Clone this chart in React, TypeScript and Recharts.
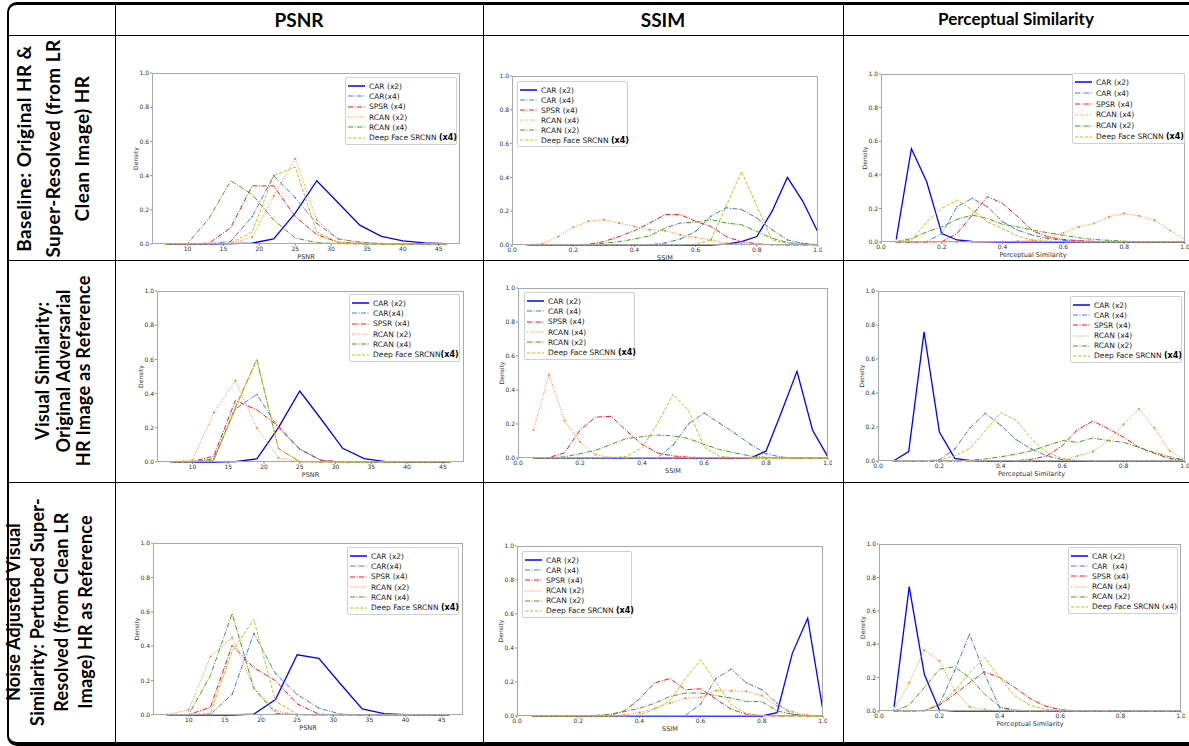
import React from "react";
import { LineChart, Line, XAxis, YAxis } from "recharts";

// x positions
const psnrX = [7, 10, 13, 16, 19, 22, 25, 28, 31, 34, 37, 40, 43, 46];
const unitX = [0.05, 0.1, 0.15, 0.2, 0.25, 0.3, 0.35, 0.4, 0.45, 0.5, 0.55, 0.6, 0.65, 0.7, 0.75, 0.8, 0.85, 0.9, 0.95, 1.0];
const psnrTicks = [10, 15, 20, 25, 30, 35, 40, 45];
const unitTicks = [0, 0.2, 0.4, 0.6, 0.8, 1];
const densityTicks = [0, 0.2, 0.4, 0.6, 0.8, 1];

// row 1: baseline
const psnrBaseCar2 = [0, 0, 0, 0.002, 0.005, 0.03, 0.18, 0.37, 0.24, 0.11, 0.045, 0.018, 0.006, 0.002];
const psnrBaseCar4 = [0, 0, 0.002, 0.015, 0.16, 0.4, 0.27, 0.12, 0.03, 0.01, 0.003, 0, 0, 0];
const psnrBaseSpsr = [0, 0, 0.005, 0.095, 0.34, 0.34, 0.16, 0.055, 0.01, 0.003, 0, 0, 0, 0];
const psnrBaseRcan2 = [0, 0, 0, 0.002, 0.04, 0.28, 0.5, 0.14, 0.03, 0.007, 0.002, 0, 0, 0];
const psnrBaseRcan4 = [0, 0.003, 0.15, 0.37, 0.29, 0.14, 0.035, 0.008, 0.002, 0, 0, 0, 0, 0];
const psnrBaseDeep = [0, 0, 0, 0.005, 0.07, 0.4, 0.45, 0.07, 0.01, 0.002, 0, 0, 0, 0];

const ssimBaseCar2 = [0, 0, 0, 0, 0, 0, 0, 0, 0, 0, 0, 0, 0, 0.005, 0.02, 0.05, 0.2, 0.4, 0.26, 0.075];
const ssimBaseCar4 = [0, 0, 0, 0, 0, 0, 0, 0, 0.002, 0.012, 0.035, 0.08, 0.17, 0.22, 0.21, 0.16, 0.09, 0.03, 0.01, 0.002];
const ssimBaseSpsr = [0, 0, 0, 0, 0.005, 0.02, 0.05, 0.085, 0.13, 0.18, 0.18, 0.14, 0.11, 0.05, 0.02, 0.007, 0.002, 0, 0, 0];
const ssimBaseRcan4 = [0.001, 0.008, 0.05, 0.105, 0.14, 0.15, 0.13, 0.11, 0.09, 0.085, 0.06, 0.045, 0.03, 0.01, 0.005, 0.002, 0, 0, 0, 0];
const ssimBaseRcan2 = [0, 0, 0, 0, 0.003, 0.01, 0.02, 0.035, 0.055, 0.1, 0.13, 0.135, 0.15, 0.13, 0.12, 0.08, 0.04, 0.015, 0.005, 0.001];
const ssimBaseDeep = [0, 0, 0, 0, 0, 0, 0, 0, 0, 0, 0, 0.005, 0.03, 0.23, 0.435, 0.23, 0.03, 0.01, 0.002, 0];

const percBaseCar2 = [0.015, 0.555, 0.36, 0.05, 0.012, 0.003, 0.001, 0, 0, 0, 0, 0, 0, 0, 0, 0, 0, 0, 0, 0];
const percBaseCar4 = [0, 0, 0.002, 0.05, 0.21, 0.26, 0.21, 0.12, 0.07, 0.04, 0.02, 0.01, 0.005, 0.002, 0, 0, 0, 0, 0, 0];
const percBaseSpsr = [0, 0, 0, 0.002, 0.05, 0.16, 0.27, 0.23, 0.15, 0.065, 0.03, 0.015, 0.008, 0.004, 0.002, 0, 0, 0, 0, 0];
const percBaseRcan4 = [0, 0, 0, 0, 0, 0, 0, 0.002, 0.005, 0.01, 0.03, 0.055, 0.09, 0.11, 0.15, 0.17, 0.155, 0.13, 0.07, 0.015];
const percBaseRcan2 = [0.002, 0.02, 0.06, 0.09, 0.135, 0.16, 0.14, 0.105, 0.09, 0.07, 0.055, 0.04, 0.025, 0.015, 0.01, 0.005, 0.002, 0, 0, 0];
const percBaseDeep = [0, 0.01, 0.12, 0.2, 0.25, 0.19, 0.12, 0.08, 0.035, 0.01, 0.005, 0.002, 0, 0, 0, 0, 0, 0, 0, 0];

// row 2: visual similarity
const psnrVisCar2 = [0, 0, 0, 0.002, 0.018, 0.2, 0.415, 0.25, 0.08, 0.02, 0.002, 0, 0, 0];
const psnrVisCar4 = [0, 0, 0.02, 0.31, 0.395, 0.2, 0.075, 0.01, 0.002, 0, 0, 0, 0, 0];
const psnrVisSpsr = [0, 0.003, 0.035, 0.36, 0.305, 0.21, 0.075, 0.008, 0.001, 0, 0, 0, 0, 0];
const psnrVisRcan2 = [0.001, 0.012, 0.29, 0.475, 0.2, 0.025, 0.002, 0, 0, 0, 0, 0, 0, 0];
const psnrVisRcan4 = [0, 0, 0.012, 0.32, 0.6, 0.08, 0.002, 0, 0, 0, 0, 0, 0, 0];
const psnrVisDeep = [0, 0, 0.01, 0.31, 0.6, 0.08, 0.002, 0, 0, 0, 0, 0, 0, 0];

const ssimVisCar2 = [0, 0, 0, 0, 0, 0, 0, 0, 0, 0, 0, 0, 0, 0, 0, 0.04, 0.27, 0.51, 0.165, 0.005];
const ssimVisCar4 = [0, 0, 0, 0, 0, 0, 0, 0, 0.002, 0.075, 0.2, 0.265, 0.205, 0.145, 0.08, 0.025, 0.005, 0.001, 0, 0];
const ssimVisSpsr = [0, 0.003, 0.03, 0.165, 0.24, 0.245, 0.16, 0.08, 0.03, 0.012, 0.005, 0.002, 0.001, 0, 0, 0, 0, 0, 0, 0];
const ssimVisRcan4 = [0.165, 0.49, 0.22, 0.095, 0.02, 0.003, 0.001, 0, 0, 0, 0, 0, 0, 0, 0, 0, 0, 0, 0, 0];
const ssimVisRcan2 = [0, 0.001, 0.007, 0.025, 0.045, 0.08, 0.115, 0.125, 0.135, 0.13, 0.115, 0.08, 0.05, 0.03, 0.012, 0.004, 0.001, 0, 0, 0];
const ssimVisDeep = [0, 0, 0, 0, 0, 0.002, 0.01, 0.06, 0.2, 0.375, 0.28, 0.065, 0.01, 0.002, 0, 0, 0, 0, 0, 0];

const percVisCar2 = [0, 0.055, 0.76, 0.17, 0.015, 0.002, 0, 0, 0, 0, 0, 0, 0, 0, 0, 0, 0, 0, 0, 0];
const percVisCar4 = [0, 0, 0, 0.008, 0.07, 0.195, 0.28, 0.21, 0.125, 0.07, 0.03, 0.008, 0.002, 0, 0, 0, 0, 0, 0, 0];
const percVisSpsr = [0, 0, 0, 0, 0, 0, 0, 0, 0.002, 0.01, 0.03, 0.09, 0.185, 0.235, 0.19, 0.14, 0.08, 0.045, 0.015, 0.003];
const percVisRcan4 = [0, 0, 0, 0, 0, 0, 0, 0, 0, 0, 0, 0.003, 0.03, 0.055, 0.12, 0.215, 0.305, 0.195, 0.06, 0.01];
const percVisRcan2 = [0, 0, 0, 0, 0.002, 0.005, 0.012, 0.025, 0.04, 0.06, 0.09, 0.12, 0.11, 0.135, 0.12, 0.11, 0.08, 0.05, 0.025, 0.005];
const percVisDeep = [0, 0, 0, 0.005, 0.03, 0.075, 0.18, 0.285, 0.24, 0.13, 0.05, 0.015, 0.003, 0, 0, 0, 0, 0, 0, 0];

// row 3: noise adjusted
const psnrNoiCar2 = [0, 0, 0, 0, 0.005, 0.09, 0.35, 0.33, 0.18, 0.035, 0.008, 0.002, 0, 0];
const psnrNoiCar4 = [0, 0, 0.005, 0.12, 0.475, 0.24, 0.12, 0.04, 0.005, 0.001, 0, 0, 0, 0];
const psnrNoiSpsr = [0, 0.002, 0.045, 0.405, 0.275, 0.2, 0.065, 0.005, 0.001, 0, 0, 0, 0, 0];
const psnrNoiRcan2 = [0.003, 0.03, 0.34, 0.45, 0.16, 0.025, 0.002, 0, 0, 0, 0, 0, 0, 0];
const psnrNoiRcan4 = [0, 0.003, 0.23, 0.59, 0.155, 0.01, 0.001, 0, 0, 0, 0, 0, 0, 0];
const psnrNoiDeep = [0, 0, 0.01, 0.37, 0.555, 0.08, 0.005, 0, 0, 0, 0, 0, 0, 0];

const ssimNoiCar2 = [0, 0, 0, 0, 0, 0, 0, 0, 0, 0, 0, 0, 0, 0, 0, 0, 0.02, 0.37, 0.575, 0.03];
const ssimNoiCar4 = [0, 0, 0, 0, 0, 0, 0, 0, 0, 0, 0.002, 0.07, 0.22, 0.275, 0.195, 0.155, 0.075, 0.01, 0.001, 0];
const ssimNoiSpsr = [0, 0, 0, 0, 0, 0.002, 0.03, 0.1, 0.195, 0.22, 0.155, 0.16, 0.1, 0.04, 0.01, 0.002, 0, 0, 0, 0];
const ssimNoiRcanA = [0, 0, 0, 0, 0, 0, 0.005, 0.02, 0.045, 0.075, 0.105, 0.11, 0.15, 0.148, 0.145, 0.12, 0.06, 0.025, 0.005, 0.001];
const ssimNoiRcanB = [0, 0, 0, 0.001, 0.003, 0.01, 0.025, 0.045, 0.075, 0.115, 0.135, 0.135, 0.12, 0.105, 0.085, 0.085, 0.03, 0.01, 0.003, 0];
const ssimNoiDeep = [0, 0, 0, 0, 0, 0, 0, 0.005, 0.04, 0.09, 0.22, 0.33, 0.2, 0.065, 0.015, 0.003, 0, 0, 0, 0];

const percNoiCar2 = [0.025, 0.745, 0.22, 0.005, 0, 0, 0, 0, 0, 0, 0, 0, 0, 0, 0, 0, 0, 0, 0, 0];
const percNoiCar4 = [0, 0, 0.002, 0.04, 0.24, 0.46, 0.22, 0.02, 0.002, 0, 0, 0, 0, 0, 0, 0, 0, 0, 0, 0];
const percNoiSpsr = [0, 0, 0.002, 0.035, 0.1, 0.17, 0.235, 0.2, 0.14, 0.075, 0.03, 0.008, 0.002, 0, 0, 0, 0, 0, 0, 0];
const percNoiRcan4 = [0.005, 0.17, 0.365, 0.3, 0.125, 0.025, 0.008, 0.002, 0, 0, 0, 0, 0, 0, 0, 0, 0, 0, 0, 0];
const percNoiRcan2 = [0, 0.035, 0.14, 0.25, 0.265, 0.2, 0.1, 0.025, 0.005, 0.001, 0, 0, 0, 0, 0, 0, 0, 0, 0, 0];
const percNoiDeep = [0, 0, 0.002, 0.04, 0.12, 0.23, 0.32, 0.2, 0.09, 0.035, 0.01, 0.002, 0, 0, 0, 0, 0, 0, 0, 0];

const STYLES: Record<string, { stroke: string; width: number; dash?: string; dot: number }> = {
  car2: { stroke: "#0000ff", width: 1.3, dot: 0 },
  car4: { stroke: "#4a7cc8", width: 1, dash: "5 1.5 1 1.5", dot: 0.8 },
  spsr: { stroke: "#ff1414", width: 1, dash: "5 1.5 1 1.5", dot: 0 },
  rcanO: { stroke: "#ff8a33", width: 1, dash: "1 1.4", dot: 1.1 },
  rcanG: { stroke: "#4c9a1c", width: 1, dash: "5 1.5 1 1.5", dot: 0 },
  deep: { stroke: "#c4c420", width: 1, dash: "3.5 1.5", dot: 0 }
};

type Series = [string, string, number[]];

interface PlotCfg {
  box: [number, number, number, number]; // plot area left, top, right, bottom
  legend: [number, number, number, number];
  kind: "psnr" | "ssim" | "perc";
  series: Series[];
  density?: boolean;
  boldTail?: boolean;
}

const plots: PlotCfg[] = [
  {
    box: [152, 73, 460, 244], legend: [345, 77, 112, 68], kind: "psnr", density: true, boldTail: true,
    series: [
      ["CAR (x2)", "car2", psnrBaseCar2], ["CAR(x4)", "car4", psnrBaseCar4], ["SPSR (x4)", "spsr", psnrBaseSpsr],
      ["RCAN (x2)", "rcanO", psnrBaseRcan2], ["RCAN (x4)", "rcanG", psnrBaseRcan4], ["Deep Face SRCNN (x4)", "deep", psnrBaseDeep]
    ]
  },
  {
    box: [512, 76, 818, 245], legend: [517, 81, 111, 66], kind: "ssim", density: false, boldTail: true,
    series: [
      ["CAR (x2)", "car2", ssimBaseCar2], ["CAR (x4)", "car4", ssimBaseCar4], ["SPSR (x4)", "spsr", ssimBaseSpsr],
      ["RCAN (x4)", "rcanO", ssimBaseRcan4], ["RCAN (x2)", "rcanG", ssimBaseRcan2], ["Deep Face SRCNN (x4)", "deep", ssimBaseDeep]
    ]
  },
  {
    box: [881, 74, 1185, 242], legend: [1072, 73, 113, 71], kind: "perc", density: true, boldTail: true,
    series: [
      ["CAR (x2)", "car2", percBaseCar2], ["CAR (x4)", "car4", percBaseCar4], ["SPSR (x4)", "spsr", percBaseSpsr],
      ["RCAN (x4)", "rcanO", percBaseRcan4], ["RCAN (x2)", "rcanG", percBaseRcan2], ["Deep Face SRCNN (x4)", "deep", percBaseDeep]
    ]
  },
  {
    box: [157, 291, 464, 462], legend: [349, 294, 111, 68], kind: "psnr", density: true, boldTail: true,
    series: [
      ["CAR (x2)", "car2", psnrVisCar2], ["CAR(x4)", "car4", psnrVisCar4], ["SPSR (x4)", "spsr", psnrVisSpsr],
      ["RCAN (x2)", "rcanO", psnrVisRcan2], ["RCAN (x4)", "rcanG", psnrVisRcan4], ["Deep Face SRCNN(x4)", "deep", psnrVisDeep]
    ]
  },
  {
    box: [518, 288, 828, 458], legend: [524, 292, 111, 68], kind: "ssim", density: true, boldTail: true,
    series: [
      ["CAR (x2)", "car2", ssimVisCar2], ["CAR (x4)", "car4", ssimVisCar4], ["SPSR (x4)", "spsr", ssimVisSpsr],
      ["RCAN (x4)", "rcanO", ssimVisRcan4], ["RCAN (x2)", "rcanG", ssimVisRcan2], ["Deep Face SRCNN (x4)", "deep", ssimVisDeep]
    ]
  },
  {
    box: [878, 291, 1185, 461], legend: [1070, 296, 112, 67], kind: "perc", density: true, boldTail: true,
    series: [
      ["CAR (x2)", "car2", percVisCar2], ["CAR (x4)", "car4", percVisCar4], ["SPSR (x4)", "spsr", percVisSpsr],
      ["RCAN (x4)", "rcanO", percVisRcan4], ["RCAN (x2)", "rcanG", percVisRcan2], ["Deep Face SRCNN (x4)", "deep", percVisDeep]
    ]
  },
  {
    box: [153, 543, 463, 715], legend: [347, 547, 112, 68], kind: "psnr", density: true, boldTail: true,
    series: [
      ["CAR (x2)", "car2", psnrNoiCar2], ["CAR(x4)", "car4", psnrNoiCar4], ["SPSR (x4)", "spsr", psnrNoiSpsr],
      ["RCAN (x2)", "rcanO", psnrNoiRcan2], ["RCAN (x4)", "rcanG", psnrNoiRcan4], ["Deep Face SRCNN (x4)", "deep", psnrNoiDeep]
    ]
  },
  {
    box: [517, 546, 823, 716], legend: [522, 551, 110, 67], kind: "ssim", density: true, boldTail: true,
    series: [
      ["CAR (x2)", "car2", ssimNoiCar2], ["CAR (x4)", "car4", ssimNoiCar4], ["SPSR (x4)", "spsr", ssimNoiSpsr],
      ["RCAN (x2)", "rcanO", ssimNoiRcanA], ["RCAN (x2)", "rcanG", ssimNoiRcanB], ["Deep Face SRCNN (x4)", "deep", ssimNoiDeep]
    ]
  },
  {
    box: [879, 544, 1181, 711], legend: [1068, 547, 110, 67], kind: "perc", density: true, boldTail: false,
    series: [
      ["CAR (x2)", "car2", percNoiCar2], ["CAR  (x4)", "car4", percNoiCar4], ["SPSR (x4)", "spsr", percNoiSpsr],
      ["RCAN (x4)", "rcanO", percNoiRcan4], ["RCAN (x2)", "rcanG", percNoiRcan2], ["Deep Face SRCNN (x4)", "deep", percNoiDeep]
    ]
  }
];

const XLABEL = { psnr: "PSNR", ssim: "SSIM", perc: "Perceptual Similarity" };
const TICK = { fontSize: 6, fill: "#333", fontFamily: "DejaVu Sans" };
const YW = 28;
const MT = 4;
const MR = 4;
const XH = 22;

function LegendBox({ cfg }: { cfg: PlotCfg }) {
  const [lx, ly, lw, lh] = cfg.legend;
  const rowH = (lh - 6) / cfg.series.length;
  return (
    <div
      style={{
        position: "absolute", left: lx, top: ly, width: lw, height: lh, boxSizing: "border-box",
        border: "1px solid #d0d0d0", borderRadius: 2, background: "#fff", padding: "3px 0",
        fontFamily: "DejaVu Sans", fontSize: 7.5, color: "#222"
      }}
    >
      {cfg.series.map(([label, key], i) => {
        const st = STYLES[key];
        const cut = label.lastIndexOf("(");
        const tailBold = cfg.boldTail && label.startsWith("Deep");
        return (
          <div key={i} style={{ height: rowH, display: "flex", alignItems: "center", whiteSpace: "pre" }}>
            <svg width={17} height={6} style={{ marginLeft: 2, marginRight: 4, flex: "none" }}>
              <line x1={0} y1={3} x2={17} y2={3} stroke={st.stroke} strokeWidth={st.width + 0.2} strokeDasharray={st.dash} />
            </svg>
            {tailBold ? (
              <span>
                {label.slice(0, cut)}
                <span style={{ color: "#000", fontWeight: 600, fontSize: 8 }}>{label.slice(cut)}</span>
              </span>
            ) : (
              <span>{label}</span>
            )}
          </div>
        );
      })}
    </div>
  );
}

function Plot({ cfg }: { cfg: PlotCfg }) {
  const [left, top, right, bottom] = cfg.box;
  const w = right - left;
  const h = bottom - top;
  const xs = cfg.kind === "psnr" ? psnrX : unitX;
  const data = xs.map((x, i) => {
    const row: Record<string, number> = { x };
    cfg.series.forEach((s, j) => {
      row["s" + j] = s[2][i];
    });
    return row;
  });
  const isPsnr = cfg.kind === "psnr";
  return (
    <>
      <div style={{ position: "absolute", left: left - YW, top: top - MT }}>
        <LineChart width={w + YW + MR} height={h + MT + XH} data={data} margin={{ top: MT, right: MR, bottom: 0, left: 0 }}>
          <XAxis
            dataKey="x"
            type="number"
            domain={isPsnr ? [5.05, 47.95] : [0, 1]}
            ticks={isPsnr ? psnrTicks : unitTicks}
            tickFormatter={(v: number) => (isPsnr ? String(v) : v.toFixed(1))}
            allowDataOverflow
            axisLine={false}
            tickSize={2}
            tickMargin={1}
            tickLine={{ stroke: "#444", strokeWidth: 0.6 }}
            tick={TICK}
            height={XH}
            interval={0}
            label={{ value: XLABEL[cfg.kind], position: "insideBottom", offset: 7, style: { fontSize: 6.5, fill: "#333", fontFamily: "DejaVu Sans" } }}
          />
          <YAxis
            type="number"
            domain={[0, 1]}
            ticks={densityTicks}
            tickFormatter={(v: number) => v.toFixed(1)}
            axisLine={false}
            tickSize={2}
            tickMargin={1}
            tickLine={{ stroke: "#444", strokeWidth: 0.6 }}
            tick={TICK}
            width={YW}
            interval={0}
            label={
              cfg.density
                ? { value: "Density", angle: -90, position: "insideLeft", offset: 12, style: { textAnchor: "middle", fontSize: 6, fill: "#333", fontFamily: "DejaVu Sans" } }
                : undefined
            }
          />
          {cfg.series.map(([label, key], j) => {
            const st = STYLES[key];
            return (
              <Line
                key={j}
                name={label}
                dataKey={"s" + j}
                type="linear"
                stroke={st.stroke}
                strokeWidth={st.width}
                strokeDasharray={st.dash}
                dot={st.dot ? { r: st.dot, fill: st.stroke, stroke: "none" } : false}
                activeDot={false}
                isAnimationActive={false}
              />
            );
          })}
        </LineChart>
      </div>
      <div
        style={{
          position: "absolute", left, top, width: w, height: h, boxSizing: "border-box",
          border: "1px solid #a8a8a8", pointerEvents: "none"
        }}
      />
      <LegendBox cfg={cfg} />
    </>
  );
}

function RowLabel({ cx, cy, lines, lh, fs, len, ls = 0 }: { cx: number; cy: number; lines: string[]; lh: number; fs: number; len: number; ls?: number }) {
  const bh = lines.length * lh;
  return (
    <div
      style={{
        position: "absolute", left: cx - len / 2, top: cy - bh / 2, width: len, height: bh,
        transform: "rotate(-90deg)", transformOrigin: "center", textAlign: "center",
        lineHeight: lh + "px", fontSize: fs, fontWeight: 700, fontFamily: "Lato", whiteSpace: "nowrap", color: "#000",
        letterSpacing: ls
      }}
    >
      {lines.map((l, i) => (
        <div key={i}>{l}</div>
      ))}
    </div>
  );
}

const hdr = { position: "absolute" as const, top: 8, fontFamily: "Lato", fontWeight: 700, fontSize: 19, textAlign: "center" as const, color: "#000" };

export default function App() {
  return (
    <div style={{ position: "absolute", left: 0, top: 0, width: 1189, height: 746, background: "#fff", overflow: "hidden" }}>
      {/* table frame */}
      <div style={{ position: "absolute", left: 7, top: 2, width: 1200, height: 744, boxSizing: "border-box", borderStyle: "solid", borderColor: "#000", borderWidth: "3px 2px 4px 2px", borderRadius: 10 }} />
      <div style={{ position: "absolute", left: 114.5, top: 3, width: 1.6, height: 740, background: "#000" }} />
      <div style={{ position: "absolute", left: 482.5, top: 3, width: 1.6, height: 740, background: "#000" }} />
      <div style={{ position: "absolute", left: 842.5, top: 3, width: 1.6, height: 740, background: "#000" }} />
      <div style={{ position: "absolute", left: 8, top: 34.5, width: 1190, height: 1.6, background: "#000" }} />
      <div style={{ position: "absolute", left: 8, top: 259.5, width: 1190, height: 1.6, background: "#000" }} />
      <div style={{ position: "absolute", left: 8, top: 481.5, width: 1190, height: 1.6, background: "#000" }} />

      <div style={{ ...hdr, left: 115, width: 368 }}>PSNR</div>
      <div style={{ ...hdr, left: 483, width: 360 }}>SSIM</div>
      <div style={{ ...hdr, left: 843, width: 346, fontSize: 17 }}>Perceptual Similarity</div>

      <RowLabel cx={52} cy={148} lh={29} fs={19} len={224} ls={0.4} lines={["Baseline: Original HR &", "Super-Resolved (from LR", "Clean Image) HR"]} />
      <RowLabel cx={63} cy={371} lh={20.5} fs={18} len={220} ls={0.3} lines={["Visual Similarity:", "Original Adversarial", "HR Image as Reference"]} />
      <RowLabel cx={49} cy={612} lh={24} fs={18} len={258} ls={0.2} lines={["Noise Adjusted Visual", "Similarity: Perturbed Super-", "Resolved (from Clean LR", "Image) HR as Reference"]} />

      {plots.map((p, i) => (
        <Plot key={i} cfg={p} />
      ))}
    </div>
  );
}
